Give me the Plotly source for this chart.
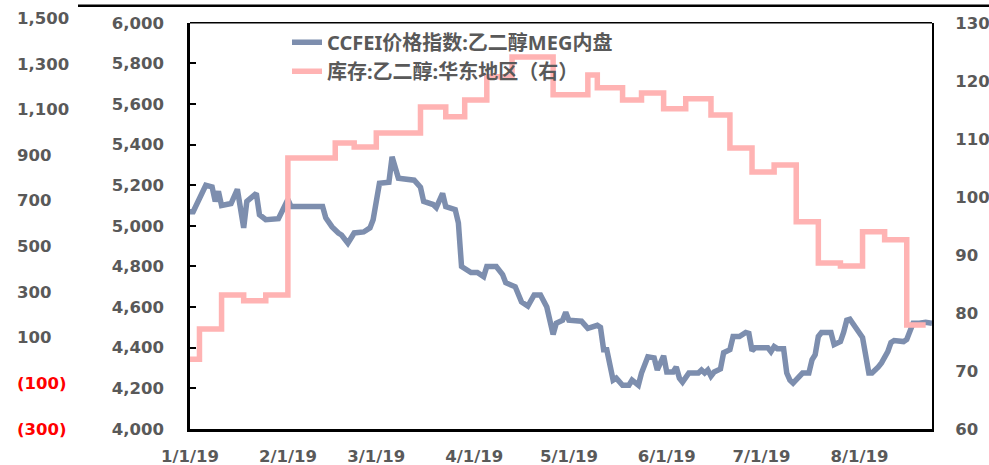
import plotly.graph_objects as go

# ---------------- data ----------------
price_dates = [
    "2019-01-01", "2019-01-02", "2019-01-06", "2019-01-08", "2019-01-09", "2019-01-10",
    "2019-01-11", "2019-01-14", "2019-01-16", "2019-01-18", "2019-01-19", "2019-01-22",
    "2019-01-23", "2019-01-25", "2019-01-29", "2019-02-01", "2019-02-02", "2019-02-12",
    "2019-02-13", "2019-02-15", "2019-02-17", "2019-02-18", "2019-02-20", "2019-02-21",
    "2019-02-22", "2019-02-25", "2019-02-27", "2019-02-28", "2019-03-02", "2019-03-05",
    "2019-03-06", "2019-03-08", "2019-03-13", "2019-03-15", "2019-03-16", "2019-03-19",
    "2019-03-20", "2019-03-22", "2019-03-23", "2019-03-26", "2019-03-27", "2019-03-28",
    "2019-03-31", "2019-04-02", "2019-04-04", "2019-04-05", "2019-04-08", "2019-04-10",
    "2019-04-11", "2019-04-14", "2019-04-16", "2019-04-18", "2019-04-20", "2019-04-22",
    "2019-04-24", "2019-04-26", "2019-04-27", "2019-04-29", "2019-04-30", "2019-05-01",
    "2019-05-05", "2019-05-07", "2019-05-10", "2019-05-11", "2019-05-12", "2019-05-13",
    "2019-05-15", "2019-05-16", "2019-05-18", "2019-05-20", "2019-05-21", "2019-05-23",
    "2019-05-24", "2019-05-26", "2019-05-28", "2019-05-29", "2019-05-31", "2019-06-01",
    "2019-06-03", "2019-06-04", "2019-06-05", "2019-06-06", "2019-06-08", "2019-06-11",
    "2019-06-12", "2019-06-13", "2019-06-14", "2019-06-15", "2019-06-16", "2019-06-18",
    "2019-06-19", "2019-06-21", "2019-06-22", "2019-06-24", "2019-06-26", "2019-06-27",
    "2019-06-28", "2019-06-29", "2019-07-03", "2019-07-04", "2019-07-05", "2019-07-06",
    "2019-07-08", "2019-07-09", "2019-07-10", "2019-07-11", "2019-07-14", "2019-07-16",
    "2019-07-17", "2019-07-18", "2019-07-19", "2019-07-20", "2019-07-23", "2019-07-24",
    "2019-07-26", "2019-07-27", "2019-07-28", "2019-07-29", "2019-07-30", "2019-08-02",
    "2019-08-04", "2019-08-05", "2019-08-07", "2019-08-08", "2019-08-10", "2019-08-11",
    "2019-08-12", "2019-08-15", "2019-08-16", "2019-08-17", "2019-08-18", "2019-08-20",
    "2019-08-22", "2019-08-24",
]
price_values = [
    5070, 5070, 5200, 5192, 5120, 5170,
    5100, 5110, 5180, 4990, 5120, 5160,
    5055, 5030, 5035, 5130, 5095, 5095,
    5040, 4995, 4965, 4955, 4915, 4940,
    4965, 4970, 4990, 5030, 5210, 5215,
    5340, 5235, 5225, 5190, 5120, 5105,
    5090, 5160, 5095, 5080, 5015, 4800,
    4770, 4770, 4750, 4800, 4800, 4760,
    4720, 4700, 4625, 4605, 4660, 4660,
    4600, 4465, 4520, 4535, 4575, 4535,
    4530, 4495, 4510, 4500, 4390, 4390,
    4240, 4250, 4215, 4215, 4240, 4215,
    4275, 4355, 4350, 4290, 4360, 4280,
    4280, 4305, 4250, 4230, 4275, 4275,
    4290, 4275, 4290, 4260, 4280, 4295,
    4375, 4390, 4455, 4455, 4475, 4470,
    4385, 4400, 4400, 4380, 4405, 4395,
    4395, 4275, 4240, 4225, 4275, 4275,
    4340, 4365, 4455, 4475, 4475, 4415,
    4430, 4475, 4535, 4540, 4520, 4450,
    4275, 4275, 4305, 4325, 4380, 4425,
    4435, 4430, 4440, 4490, 4520, 4520,
    4525, 4520,
]

stock_dates = [
    "2019-01-01", "2019-01-04", "2019-01-11", "2019-01-18", "2019-01-25", "2019-02-01",
    "2019-02-16", "2019-02-22", "2019-03-01", "2019-03-15", "2019-03-23", "2019-03-29",
    "2019-04-05", "2019-04-13", "2019-04-26", "2019-05-07", "2019-05-10", "2019-05-18",
    "2019-05-24", "2019-05-31", "2019-06-07", "2019-06-15", "2019-06-21", "2019-06-28",
    "2019-07-05", "2019-07-12", "2019-07-19", "2019-07-26", "2019-08-02", "2019-08-09",
    "2019-08-16", "2019-08-22",
]
stock_values = [
    72.0, 77.2, 83.1, 82.1, 83.1, 106.7,
    109.3, 108.6, 111.0, 115.5, 113.8, 116.7,
    120.7, 124.1, 117.6, 121.0, 118.8, 116.7,
    117.9, 115.2, 116.9, 114.1, 108.4, 104.3,
    105.5, 95.7, 88.6, 88.1, 94.0, 92.6,
    77.9, 77.9,
]

series_names = ["CCFEI价格指数:乙二醇MEG内盘", "库存:乙二醇:华东地区（右）"]

left_ticks = [4000, 4200, 4400, 4600, 4800, 5000, 5200, 5400, 5600, 5800, 6000]
right_ticks = [60, 70, 80, 90, 100, 110, 120, 130]
outer_ticks = [-300, -100, 100, 300, 500, 700, 900, 1100, 1300, 1500]
outer_range = [-340, 1540]
x_ticks = ["2019-01-01", "2019-02-01", "2019-03-01", "2019-04-01",
           "2019-05-01", "2019-06-01", "2019-07-01", "2019-08-01"]
x_ticktext = ["1/1/19", "2/1/19", "3/1/19", "4/1/19", "5/1/19", "6/1/19", "7/1/19", "8/1/19"]


def fmt_outer(v):
    if v < 0:
        return f"<span style='color:#FF0000'>({abs(v):,})</span>"
    return f"{v:,}"


# ---------------- styling ----------------
GRAY = "#595959"
TICK_FONT = dict(family="DejaVu Sans", size=16.5, color=GRAY, weight="bold")
W, H = 989, 465
PLOT_L, PLOT_R, PLOT_T, PLOT_B = 190, 932, 23, 429   # main plot box (px)
OUTER_TOP_LABEL, OUTER_BOT_LABEL = 18.3, 429.0        # px of 1,500 and (300)
ppu = (OUTER_BOT_LABEL - OUTER_TOP_LABEL) / (outer_ticks[-1] - outer_ticks[0])
OUT_TOP = OUTER_TOP_LABEL - (outer_range[1] - outer_ticks[-1]) * ppu
OUT_BOT = OUTER_BOT_LABEL + (outer_ticks[0] - outer_range[0]) * ppu
ML, MR = 12, 0
MT, MB = OUT_TOP, H - OUT_BOT
PW = W - ML - MR
PH = H - MT - MB

fig = go.Figure()
fig.add_trace(go.Scatter(
    x=price_dates, y=price_values, name=series_names[0], mode="lines",
    line=dict(color="#7D8EAE", width=5.5), yaxis="y"))
fig.add_trace(go.Scatter(
    x=stock_dates, y=stock_values, name=series_names[1], mode="lines",
    line=dict(color="#FFB3B3", width=5.5, shape="hv"), yaxis="y2"))
fig.add_trace(go.Scatter(
    x=[price_dates[0]], y=[None], yaxis="y3", showlegend=False,
    hoverinfo="skip", mode="lines"))

main_dom = [(OUT_BOT - PLOT_B) / PH, (OUT_BOT - PLOT_T) / PH]

fig.update_layout(
    width=W, height=H,
    margin=dict(l=ML, r=MR, t=MT, b=MB, autoexpand=False),
    paper_bgcolor="white", plot_bgcolor="rgba(0,0,0,0)",
    showlegend=True,
    legend=dict(
        x=(287 - ML) / PW, y=(OUT_BOT - 23) / PH, xanchor="left", yanchor="top",
        bgcolor="rgba(0,0,0,0)",
        font=dict(family="Noto Sans, Noto Sans CJK SC", size=20, color=GRAY, weight="bold"),
        tracegroupgap=0,
    ),
    xaxis=dict(
        domain=[(PLOT_L - ML) / PW, (PLOT_R - ML) / PW],
        type="date", range=["2019-01-01", "2019-08-24"],
        tickvals=x_ticks, ticktext=x_ticktext,
        showgrid=False, zeroline=False,
        showline=True, linecolor="black", linewidth=2.5,
        ticks="", tickfont=TICK_FONT, ticklabelstandoff=11,
    ),
    yaxis=dict(
        domain=main_dom,
        range=[4000, 6000], tickvals=left_ticks,
        ticktext=[f"{v:,}" for v in left_ticks],
        showgrid=False, zeroline=False,
        showline=True, linecolor="black", linewidth=2.5,
        ticks="inside", ticklen=6, tickwidth=2, tickcolor="black",
        tickfont=TICK_FONT, ticklabelstandoff=20,
    ),
    yaxis2=dict(
        range=[60, 130], tickvals=right_ticks,
        overlaying="y", side="right", anchor="x",
        showgrid=False, zeroline=False,
        showline=True, linecolor="black", linewidth=2,
        ticks="", tickfont=TICK_FONT, ticklabelstandoff=18,
    ),
    yaxis3=dict(
        domain=[0, 1],
        range=outer_range, tickvals=outer_ticks,
        ticktext=[fmt_outer(v) for v in outer_ticks],
        side="right", anchor="free", position=0,
        showgrid=False, zeroline=False, showline=False,
        ticks="", tickfont=TICK_FONT, ticklabelstandoff=4,
    ),
    shapes=[
        dict(type="line", xref="x domain", yref="y domain",
             x0=0, x1=1, y0=1, y1=1,
             line=dict(color="black", width=1.5)),
        dict(type="line", xref="paper", yref="paper",
             x0=(78 - ML) / PW, x1=1.0, y0=(OUT_BOT - 6) / PH, y1=(OUT_BOT - 6) / PH,
             line=dict(color="black", width=2.5)),
    ],
)

fig.write_html("out.html", config={"displayModeBar": False},
               post_script="document.body.style.margin='0px';")
